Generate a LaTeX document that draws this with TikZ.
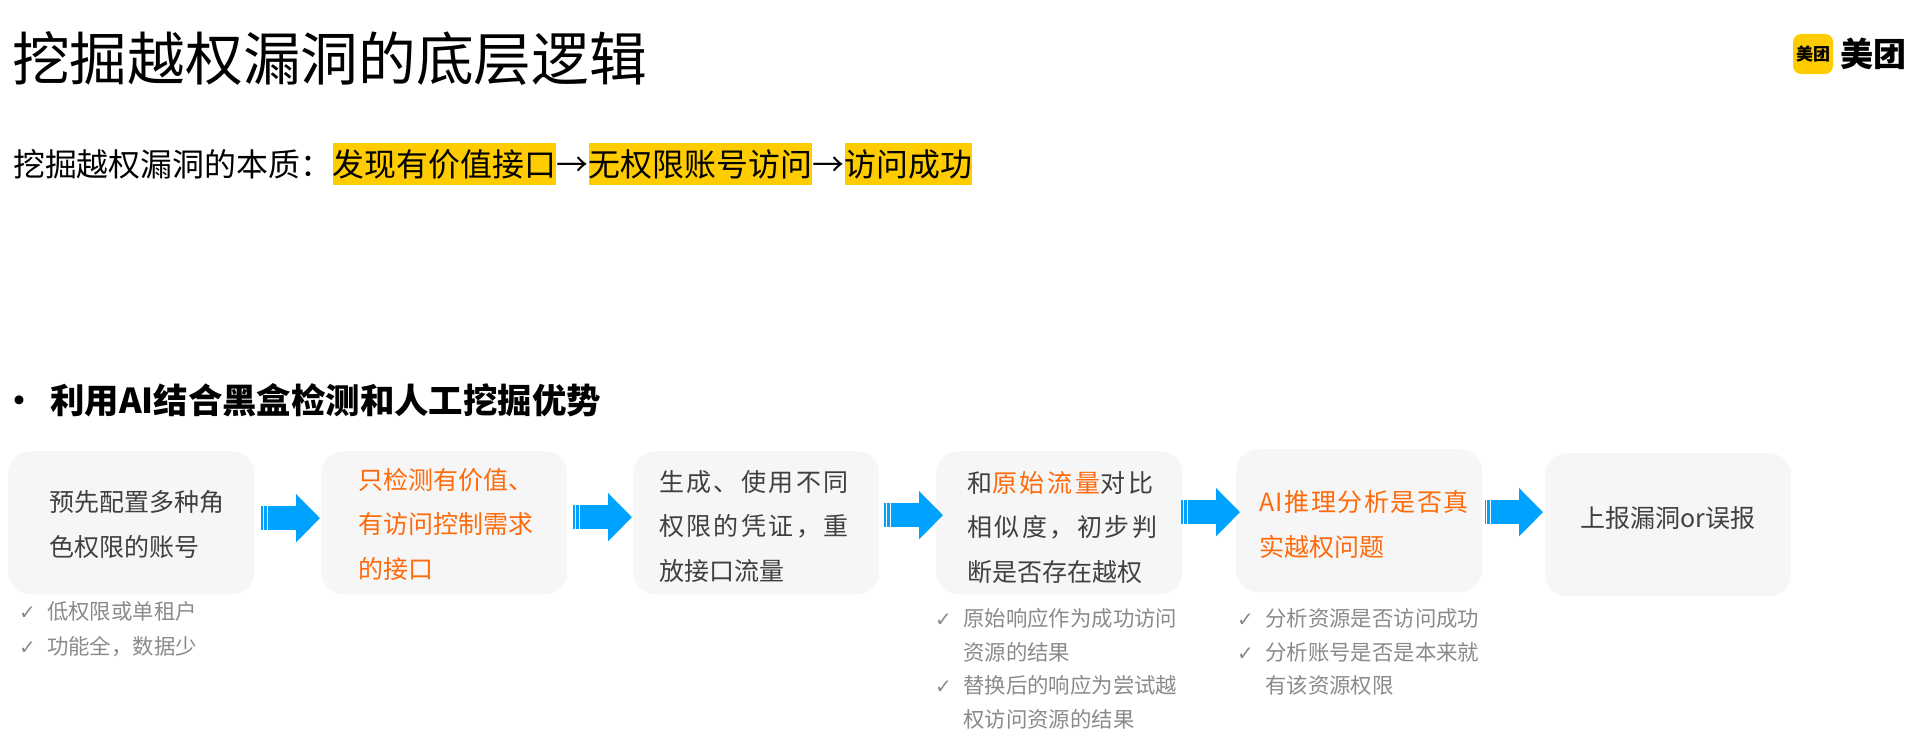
\documentclass[tikz,border=0pt]{standalone}
\usepackage{fontspec}
\setmainfont{Noto Sans CJK SC}
\newfontfamily\symfont{DejaVu Sans}
\usetikzlibrary{positioning, arrows.meta}
\definecolor{boxgray}{HTML}{F6F6F6}
\definecolor{inkgray}{HTML}{404040}
\definecolor{notegray}{HTML}{8A8A8A}
\definecolor{hotorange}{HTML}{FF6A0A}
\definecolor{flowblue}{HTML}{00A2FF}
\definecolor{markyellow}{HTML}{FFCC00}
\newcommand{\tick}{\makebox[28bp][l]{\symfont\fontsize{20bp}{20bp}\selectfont ✓}}
\newcommand{\hot}[1]{\textcolor{hotorange}{#1}}
\newcommand{\wide}[2]{{\addfontfeatures{LetterSpace=#1}#2}}
\tikzset{
  headline/.style={inner sep=0pt, anchor=west, font=\fontsize{57.7bp}{64bp}\selectfont},
  essence/.style={inner xsep=0pt, inner ysep=5bp, text height=29bp, text depth=3bp, font=\fontsize{31.9bp}{36bp}\selectfont},
  marked/.style={essence, fill=markyellow},
  flowbox/.style={draw=none, fill=boxgray, rounded corners=22bp, inner sep=0pt, anchor=north west,
    minimum height=143bp, text width=246bp, align=left, text=inkgray,
    font=\fontsize{25bp}{44.5bp}\selectfont},
  pad/.style 2 args={execute at begin node={\leftskip=#1bp\relax\rule{0pt}{#2bp}}},
  note/.style={inner sep=0pt, anchor=north west, align=left, text=notegray,
    font=\fontsize{21.4bp}{33.5bp}\selectfont},
  flowarrow/.style={flowblue, line width=24bp, dash pattern=on 1.5bp off 1bp on 3bp off 1bp on 200bp,
    -{Triangle[length=24bp,width=47bp]}},
}
\begin{document}
\begin{tikzpicture}[x=1bp, y=-1bp]
\useasboundingbox (0,0) rectangle (1915,752);
\node[headline] (title) at (12,59) {挖掘越权漏洞的底层逻辑};
\node[fill=markyellow, rounded corners=8bp, minimum size=40bp, inner sep=0pt, font=\fontsize{17bp}{17bp}\selectfont\bfseries] (logomark) at (1813,54) {美团};
\node[inner sep=0pt, anchor=west, font=\fontsize{33bp}{33bp}\selectfont\bfseries] (logotext) at (1840,54) {美团};
% essence line
\node[essence, anchor=west] (essence) at (13,163.5) {挖掘越权漏洞的本质：};
\node[marked, right=0pt of essence] (find) {发现有价值接口};
\node[essence, right=0pt of find] (then1) {→};
\node[marked, right=0pt of then1] (noauth) {无权限账号访问};
\node[essence, right=0pt of noauth] (then2) {→};
\node[marked, right=0pt of then2] (success) {访问成功};
% bullet
\node[inner sep=0pt, font=\fontsize{32bp}{32bp}\selectfont\bfseries] (dot) at (19,404) {•};
\node[inner sep=0pt, anchor=west, font=\fontsize{34.4bp}{38bp}\selectfont\bfseries] (lead) at (50,400) {利用AI结合黑盒检测和人工挖掘优势};
% boxes
\node[flowbox, pad={41}{25}] (box1) at (8,451) {预先配置多种角\\色权限的账号};
\node[flowbox, pad={37}{24}] (box2) at (321,451) {\hot{只检测有价值、}\\\hot{有访问控制需求}\\\hot{的接口}};
\node[flowbox, pad={26}{28}] (box3) at (633,451) {\wide{9.6}{生成、使用不同}\\\wide{9.6}{权限的凭证，重}\\放接口流量};
\node[flowbox, pad={31}{30}] (box4) at (936,451) {\wide{11}{和\hot{原始流量}对比}\\\wide{10}{相似度，初步判}\\断是否存在越权};
\node[flowbox, pad={23}{29}] (box5) at (1236,449) {\hot{\wide{6}{AI推理分析是否真}}\\\hot{实越权问题}};
\node[flowbox, align=center] (box6) at (1545,453) {上报漏洞or误报\par\vspace*{14bp}};
% arrows
\draw[flowarrow] ([shift={(7,-4.5)}]box1.east) -- ([shift={(-1,-4.5)}]box2.west);
\draw[flowarrow] ([shift={(6,-5.5)}]box2.east) -- ([shift={(-1,-5.5)}]box3.west);
\draw[flowarrow] ([shift={(5,-7.5)}]box3.east) -- ([shift={(7,-7.5)}]box4.west);
\draw[flowarrow] ([shift={(-1,-10.5)}]box4.east) -- ([shift={(4,-8.5)}]box5.west);
\draw[flowarrow] ([shift={(2.5,-8.5)}]box5.east) -- ([shift={(-2,-12.5)}]box6.west);
% notes
\node[note] (note1) at (19,601) {\tick 低权限或单租户\\[1.5bp]\tick 功能全，数据少};
\node[note] (note4) at (935,608.5) {\tick 原始响应作为成功访问\\\hspace*{28bp}资源的结果\\\tick 替换后的响应为尝试越\\\hspace*{28bp}权访问资源的结果};
\node[note] (note5) at (1237,608.5) {\tick 分析资源是否访问成功\\\tick 分析账号是否是本来就\\\hspace*{28bp}有该资源权限};
\end{tikzpicture}
\end{document}
